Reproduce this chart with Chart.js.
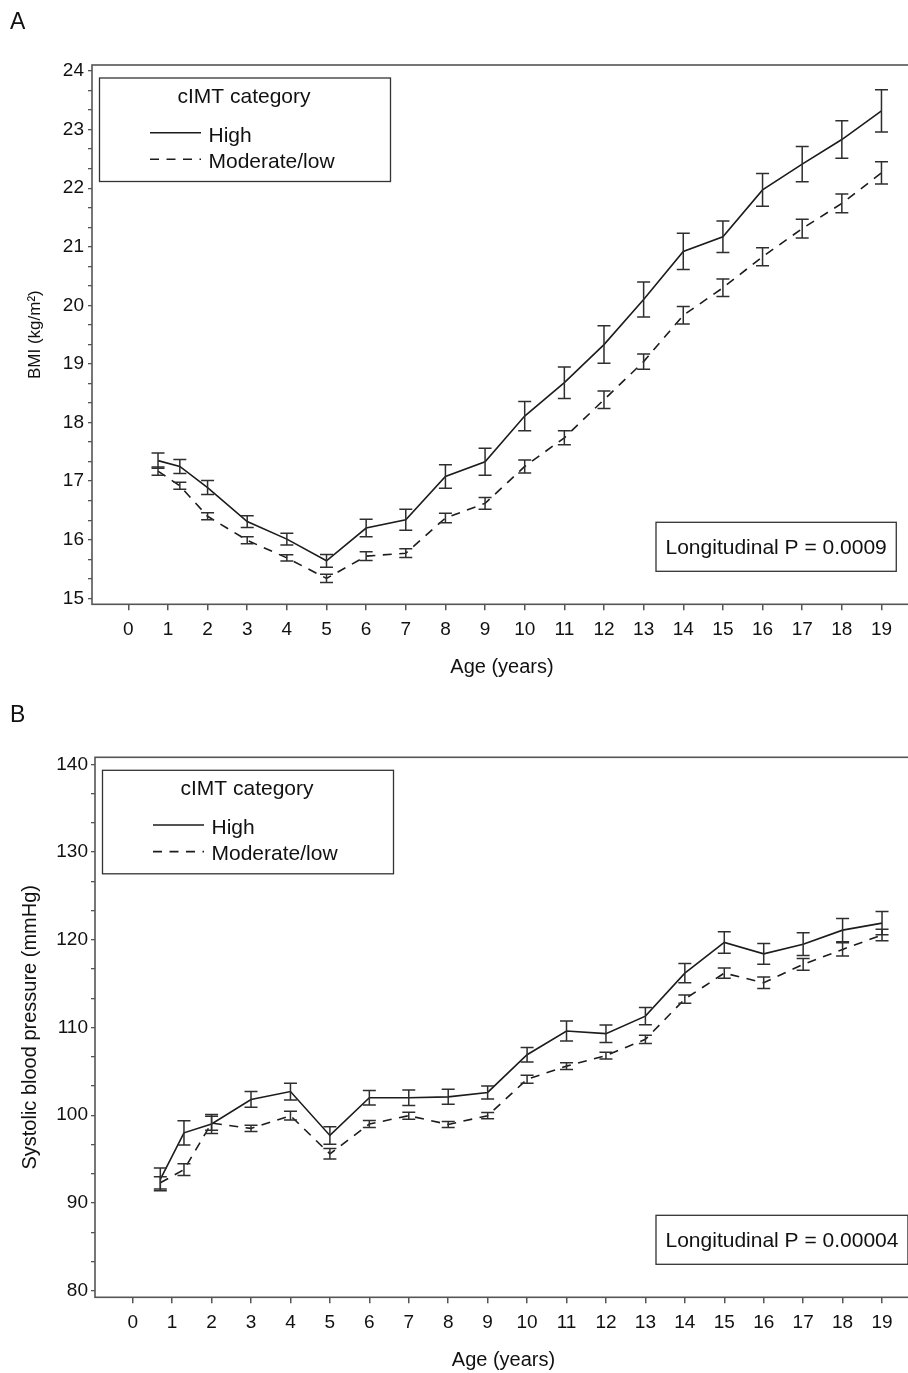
<!DOCTYPE html>
<html>
<head>
<meta charset="utf-8">
<script src="https://cdn.jsdelivr.net/npm/chart.js@4.4.1/dist/chart.umd.min.js"></script>
<style>
html, body { margin: 0; padding: 0; background: #fff; overflow: hidden; width: 908px; height: 1373px; }
canvas { position: absolute; left: 0; }
</style>
</head>
<body>
<canvas id="chartA" width="912" height="690" style="top:0"></canvas>
<canvas id="chartB" width="912" height="683" style="top:690px"></canvas>
<script>
// panel A - BMI
const bmiAges = [0.75, 1.3, 2, 3, 4, 5, 6, 7, 8, 9, 10, 11, 12, 13, 14, 15, 16, 17, 18, 19];
const bmiHigh = [17.35, 17.25, 16.89, 16.31, 16.01, 15.64, 16.20, 16.34, 17.08, 17.33, 18.11, 18.68, 19.33, 20.10, 20.92, 21.17, 21.97, 22.41, 22.83, 23.32];
const bmiHighErr = [0.13, 0.12, 0.12, 0.10, 0.10, 0.11, 0.15, 0.18, 0.20, 0.23, 0.25, 0.27, 0.32, 0.30, 0.31, 0.27, 0.28, 0.30, 0.32, 0.36];
const bmiMod = [17.17, 16.92, 16.40, 15.99, 15.69, 15.34, 15.72, 15.77, 16.37, 16.62, 17.25, 17.74, 18.39, 19.04, 19.83, 20.30, 20.83, 21.31, 21.74, 22.26];
const bmiModErr = [0.07, 0.06, 0.06, 0.06, 0.055, 0.07, 0.075, 0.075, 0.08, 0.10, 0.11, 0.12, 0.15, 0.13, 0.15, 0.15, 0.155, 0.16, 0.16, 0.19];

// panel B - systolic blood pressure
const sbpAges = [0.7, 1.3, 2, 3, 4, 5, 6, 7, 8, 9, 10, 11, 12, 13, 14, 15, 16, 17, 18, 19];
const sbpHigh = [92.7, 98.0, 99.0, 101.8, 102.7, 97.7, 102.0, 102.0, 102.1, 102.6, 106.9, 109.6, 109.3, 111.3, 116.2, 119.7, 118.4, 119.5, 121.1, 121.9];
const sbpHighErr = [1.3, 1.38, 1.08, 0.9, 0.95, 1.0, 0.83, 0.88, 0.85, 0.74, 0.83, 1.14, 1.0, 0.98, 1.1, 1.23, 1.18, 1.3, 1.33, 1.33];
const sbpMod = [92.3, 93.8, 99.1, 98.5, 99.95, 95.6, 99.0, 99.95, 98.95, 99.95, 104.1, 105.6, 106.8, 108.65, 113.25, 116.2, 115.1, 117.2, 118.9, 120.55];
const sbpModErr = [0.7, 0.67, 0.8, 0.36, 0.5, 0.6, 0.4, 0.4, 0.35, 0.36, 0.45, 0.38, 0.38, 0.47, 0.47, 0.57, 0.65, 0.67, 0.76, 0.65];

const legendTitle = 'cIMT category';
const seriesNames = ['High', 'Moderate/low'];

const FONT = '"Liberation Sans", Arial, sans-serif';
const textColor = '#111';
const axisColor = '#555';
const lineColor = '#1c1c1c';

function points(xs, ys) {
    return xs.map((x, i) => ({ x: x, y: ys[i] }));
}

// error bars drawn from the err arrays through the chart scales
const errorBars = {
    id: 'errorBars',
    afterDatasetsDraw(chart) {
        const { ctx, scales } = chart;
        ctx.save();
        ctx.strokeStyle = '#2e2e2e';
        ctx.lineWidth = 1.5;
        ctx.setLineDash([]);
        chart.data.datasets.forEach((ds) => {
            ds.data.forEach((p, i) => {
                const e = ds.err[i];
                const x = scales.x.getPixelForValue(p.x);
                const y1 = scales.y.getPixelForValue(p.y + e);
                const y2 = scales.y.getPixelForValue(p.y - e);
                ctx.beginPath();
                ctx.moveTo(x, y1); ctx.lineTo(x, y2);
                ctx.moveTo(x - 6.5, y1); ctx.lineTo(x + 6.5, y1);
                ctx.moveTo(x - 6.5, y2); ctx.lineTo(x + 6.5, y2);
                ctx.stroke();
            });
        });
        ctx.restore();
    }
};

// frame, legend box, p-value box and panel letter
const decorations = {
    id: 'decorations',
    beforeDraw(chart) {
        const ctx = chart.ctx;
        ctx.save();
        ctx.fillStyle = '#fff';
        ctx.fillRect(0, 0, chart.width, chart.height);
        ctx.restore();
    },
    afterDraw(chart, args, o) {
        const { ctx, chartArea: a } = chart;
        ctx.save();
        ctx.strokeStyle = axisColor;
        ctx.lineWidth = 1.6;
        ctx.setLineDash([]);
        ctx.strokeRect(a.left, a.top, a.right - a.left, a.bottom - a.top);

        // panel letter
        ctx.fillStyle = textColor;
        ctx.font = '23px ' + FONT;
        ctx.textAlign = 'left';
        ctx.textBaseline = 'alphabetic';
        ctx.fillText(o.letter, 10, o.letterY);

        // legend
        const lx = a.left + 7.5, ly = a.top + 13;
        ctx.lineWidth = 1.3;
        ctx.strokeStyle = '#333';
        ctx.strokeRect(lx, ly, 291, 103.5);
        ctx.font = '21px ' + FONT;
        ctx.textAlign = 'center';
        ctx.fillText(legendTitle, lx + 144.5, a.top + 37.5);
        ctx.textAlign = 'left';
        ctx.fillText(seriesNames[0], a.left + 116.5, a.top + 76.5);
        ctx.fillText(seriesNames[1], a.left + 116.5, a.top + 102.5);
        ctx.strokeStyle = lineColor;
        ctx.lineWidth = 1.6;
        ctx.beginPath();
        ctx.moveTo(a.left + 58, a.top + 67.7); ctx.lineTo(a.left + 109, a.top + 67.7);
        ctx.stroke();
        ctx.setLineDash([9, 7.5]);
        ctx.beginPath();
        ctx.moveTo(a.left + 58, a.top + 94.3); ctx.lineTo(a.left + 109, a.top + 94.3);
        ctx.stroke();
        ctx.setLineDash([]);

        // p-value box
        ctx.font = '21px ' + FONT;
        const w = ctx.measureText(o.pText).width;
        const bx = 656, by = a.bottom - 33 - 49;
        ctx.lineWidth = 1.3;
        ctx.strokeStyle = '#333';
        ctx.strokeRect(bx, by, w + 19, 49);
        ctx.fillText(o.pText, bx + 9.5, by + 32);
        ctx.restore();
    }
};

function makeChart(id, cfg) {
    const yMajor = cfg.yMajor;
    return new Chart(document.getElementById(id), {
        type: 'line',
        data: {
            datasets: [{
                label: seriesNames[0],
                data: points(cfg.ages, cfg.high),
                err: cfg.highErr,
                borderColor: lineColor,
                borderWidth: 1.6,
                pointRadius: 0,
                tension: 0,
                fill: false
            }, {
                label: seriesNames[1],
                data: points(cfg.ages, cfg.mod),
                err: cfg.modErr,
                borderColor: lineColor,
                borderWidth: 1.6,
                borderDash: [9, 7.5],
                pointRadius: 0,
                tension: 0,
                fill: false
            }]
        },
        options: {
            responsive: false,
            animation: false,
            devicePixelRatio: 1,
            layout: { padding: { top: cfg.padTop, left: 0, right: 0, bottom: 0 } },
            plugins: {
                legend: { display: false },
                tooltip: { enabled: false },
                decorations: { letter: cfg.letter, letterY: cfg.letterY, pText: cfg.pText }
            },
            scales: {
                x: {
                    type: 'linear',
                    min: cfg.xMin,
                    max: cfg.xMax,
                    afterFit: (s) => { s.height = cfg.xHeight; },
                    border: { display: false },
                    grid: { drawOnChartArea: false, drawTicks: true, tickLength: 6, tickColor: axisColor, lineWidth: 1.5 },
                    ticks: {
                        stepSize: 1, includeBounds: false, autoSkip: false, maxRotation: 0,
                        padding: 8.5, color: textColor, font: { size: 19, family: FONT },
                        callback: (v) => String(Math.round(v))
                    },
                    title: {
                        display: true, text: 'Age (years)', color: textColor,
                        font: { size: 20, family: FONT }, padding: { top: 0, bottom: cfg.xTitlePad }
                    }
                },
                y: {
                    type: 'linear',
                    min: cfg.yMin,
                    max: cfg.yMax,
                    afterFit: (s) => { s.width = cfg.yWidth; },
                    border: { display: false },
                    grid: { drawOnChartArea: false, drawTicks: true, tickLength: 4, tickColor: axisColor, lineWidth: 1.3 },
                    ticks: {
                        stepSize: yMajor / 3, includeBounds: false, autoSkip: false,
                        padding: cfg.yTickPad, color: textColor, font: { size: 19, family: FONT },
                        callback: (v) => {
                            const r = v / yMajor;
                            return Math.abs(r - Math.round(r)) < 1e-6 ? String(Math.round(v)) : '';
                        }
                    },
                    title: {
                        display: true, text: cfg.yTitle, color: textColor,
                        font: { size: cfg.yTitleSize, family: FONT }, padding: { top: cfg.yTitlePad, bottom: 0 }
                    }
                }
            }
        },
        plugins: [decorations, errorBars]
    });
}

makeChart('chartA', {
    ages: bmiAges, high: bmiHigh, highErr: bmiHighErr, mod: bmiMod, modErr: bmiModErr,
    xMin: -0.9155, xMax: 19.77, yMin: 14.898, yMax: 24.102, yMajor: 1,
    padTop: 65, xHeight: 85.7, yWidth: 92, xTitlePad: 11, yTitlePad: 25, yTickPad: 4,
    yTitle: 'BMI (kg/m²)', yTitleSize: 17, letter: 'A', letterY: 29, pText: 'Longitudinal P = 0.0009'
});

makeChart('chartB', {
    ages: sbpAges, high: sbpHigh, highErr: sbpHighErr, mod: sbpMod, modErr: sbpModErr,
    xMin: -0.956, xMax: 19.76, yMin: 79.25, yMax: 140.8, yMajor: 10,
    padTop: 67.3, xHeight: 75.7, yWidth: 95, xTitlePad: 1, yTitlePad: 18, yTickPad: 3,
    yTitle: 'Systolic blood pressure (mmHg)', yTitleSize: 20, letter: 'B', letterY: 32, pText: 'Longitudinal P = 0.00004'
});
</script>
</body>
</html>
